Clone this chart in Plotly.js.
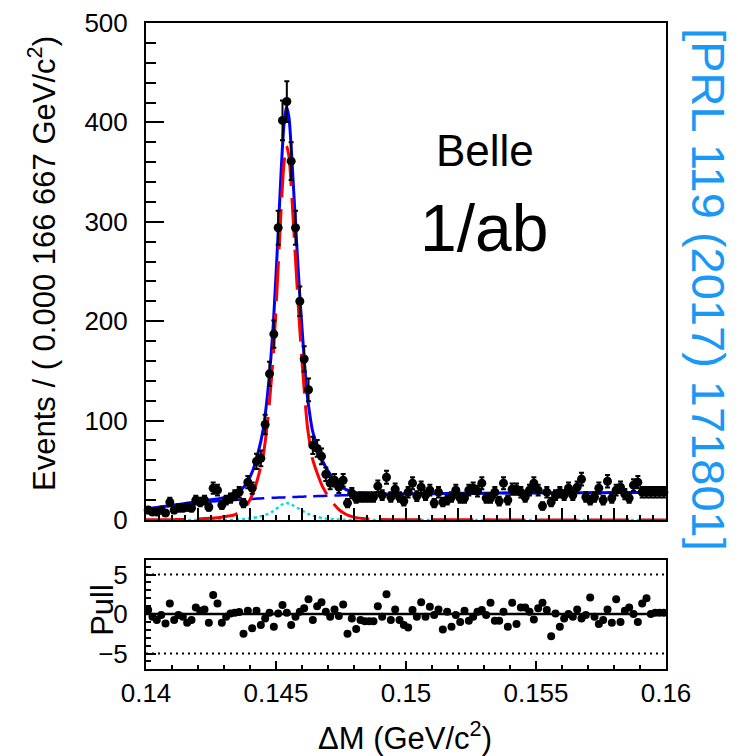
<!DOCTYPE html>
<html>
<head>
<meta charset="utf-8">
<script src="https://cdn.plot.ly/plotly-3.0.1.min.js"></script>
<style>
  html, body { margin: 0; padding: 0; background: #fff; }
  #chart { width: 738px; height: 756px; }
</style>
</head>
<body>
<div id="chart"></div>
<script>
// ---- Histogram binning (120 bins of 0.000166667 GeV/c^2 from 0.14 to 0.16)
var binLow = 0.14;
var binWidth = 0.02 / 120;

// ---- Data: events per bin
var counts = [
  10, 8, 8, 10, 7, 18, 10, 12, 12, 13,
  12, 20, 18, 20, 13, 32, 30, 15, 20, 22,
  25, 28, 17, 38, 32, 59, 62, 96, 147, 187,
  294, 402, 421, 361, 294, 220, 162, 131, 75, 72,
  64, 46, 37, 40, 33, 40, 17, 27, 22, 23,
  23, 23, 23, 34, 25, 43, 23, 31, 23, 19,
  28, 37, 24, 33, 25, 30, 17, 28, 18, 20,
  23, 30, 22, 22, 30, 32, 29, 37, 22, 22,
  28, 19, 37, 20, 31, 31, 28, 23, 30, 37,
  30, 14, 28, 18, 25, 28, 25, 32, 25, 33,
  41, 23, 20, 23, 32, 20, 39, 22, 30, 33,
  26, 22, 35, 38, 28, 28, 28, 28, 28, 28
];

// ---- Pulls per bin
var pulls = [
  0.5, -0.34, -0.76, -0.13, -1.2, 1.35, -0.76, -0.13, -0.34, -1.1,
  -0.76, 0.84, 0.42, 0.59, -1.1, 2.4, 1.35, -1.1, -0.34, 0.08,
  0.17, 0.25, -2.5, 0.42, -1.8, 0.42, -1.4, -0.55, 0.17, -1.6,
  0.08, 1.14, 0.17, -1.4, -0.34, 0.3, 0.72, 1.86, -0.76, 1.0,
  1.5, 0.3, -0.34, 0.59, -0.25, 1.2, -2.5, -0.55, -1.9, -0.76,
  -0.9, -0.9, -0.9, 1.0, -0.34, 2.5, -0.76, 0.59, -0.76, -1.4,
  -1.7, 0.5, -0.34, 1.5, -0.34, 0.93, -0.13, 0.59, -1.95, 0.3,
  -1.6, -0.13, -1.0, 0.42, -0.84, -0.34, 0.3, 0.5, -0.13, 1.43,
  -0.84, -0.84, 0.3, -1.6, 1.43, -1.26, 0.84, 0.84, 0.3, -0.68,
  0.72, 1.43, 0.5, -2.8, 0.08, -1.6, -0.55, 0, -0.34, 0.59,
  -0.55, -0.13, 2.1, -0.34, -1.26, -0.76, 0.59, -1.1, 1.86, -1.0,
  0.42, 0.84, 0, -1.0, 1.35, 2.0, 0, 0.17, 0.17, 0.17
];

// ---- Fit curves sampled at fitX
var fitX = [
  0.1400, 0.1405, 0.1410, 0.1415, 0.1420, 0.1425, 0.1429, 0.1432, 0.1434, 0.1437,
  0.1439, 0.1441, 0.1443, 0.1445, 0.1447, 0.1449, 0.1451, 0.1452, 0.1453, 0.1454,
  0.1455, 0.1456, 0.1457, 0.1458, 0.1459, 0.1460, 0.1461, 0.1462, 0.1463, 0.1464,
  0.1466, 0.1468, 0.1471, 0.1474, 0.1477, 0.1480, 0.1485, 0.1490, 0.1500, 0.1510,
  0.1520, 0.1530, 0.1540, 0.1550, 0.1560, 0.1570, 0.1580, 0.1590, 0.1600
];
var totalFit = [
  11.1, 12.9, 14.8, 16.5, 18.5, 20.3, 22.0, 24.0, 25.5, 31.4,
  38.2, 49.2, 66.5, 90.0, 133.1, 198.3, 298.0, 352.0, 396.0, 416.0,
  405.0, 368.0, 322.0, 276.0, 232.0, 193.0, 157.0, 126.0, 106.2, 90.3,
  73.0, 59.0, 45.5, 36.1, 30.5, 28.0, 26.5, 26.1, 26.3, 26.5,
  26.8, 27.0, 27.15, 27.25, 27.35, 27.45, 27.55, 27.65, 27.75
];
var signalFit = [
  0.1, 0.2, 0.3, 0.5, 1.0, 1.8, 2.7, 4.1, 5.1, 10.0,
  16.0, 26.0, 42.0, 63.7, 105.0, 167.0, 262.5, 314.4, 356.8, 376.2,
  365.6, 329.5, 284.9, 240.3, 197.7, 160.1, 125.5, 95.9, 77.0, 62.0,
  46.0, 33.0, 20.0, 11.0, 5.5, 2.9, 1.1, 0.4, 0.2, 0.1,
  0.1, 0.1, 0.05, 0.05, 0.05, 0.05, 0.05, 0.05, 0.05
];
var backgroundFit = [
  11.0, 12.7, 14.5, 16.0, 17.5, 18.5, 19.3, 19.8, 20.1, 20.6,
  20.9, 21.2, 21.5, 21.8, 22.1, 22.3, 22.5, 22.6, 22.7, 22.8,
  22.9, 23.0, 23.1, 23.2, 23.3, 23.4, 23.5, 23.6, 23.7, 23.8,
  24.0, 24.2, 24.5, 24.7, 24.9, 25.1, 25.4, 25.7, 26.1, 26.4,
  26.7, 26.9, 27.1, 27.2, 27.3, 27.4, 27.5, 27.6, 27.7
];
var peakingBkgFit = [
  0, 0, 0, 0, 0, 0, 0, 0.1, 0.3, 0.8,
  1.3, 2.0, 3.0, 4.5, 6.0, 9.0, 13.0, 15.0, 16.5, 17.0,
  16.5, 15.5, 14.0, 12.5, 11.0, 9.5, 8.0, 6.5, 5.5, 4.5,
  3.0, 1.8, 1.0, 0.4, 0.1, 0, 0, 0, 0, 0,
  0, 0, 0, 0, 0, 0, 0, 0, 0
];

// ---- Tick labels
var mainYTickVals = [0, 100, 200, 300, 400, 500];
var mainYTickText = ['0', '100', '200', '300', '400', '500'];
var pullXTickVals = [0.14, 0.145, 0.15, 0.155, 0.16];
var pullXTickText = ['0.14', '0.145', '0.15', '0.155', '0.16'];
var pullYTickVals = [-5, 0, 5];
var pullYTickText = ['\u22125', '0', '5'];
var pullRefLevels = [-5, 5];

// ---- Derived positions
var binCenters = counts.map(function (_, i) { return binLow + (i + 0.5) * binWidth; });
var errs = counts.map(function (n) { return Math.sqrt(n); });

var FONT = 'Liberation Sans, Arial, Helvetica, sans-serif';

var traces = [
  { x: fitX, y: backgroundFit, xaxis: 'x', yaxis: 'y', mode: 'lines', hoverinfo: 'skip',
    line: { color: '#0000ff', width: 2.5, dash: '14px,7px', shape: 'spline', smoothing: 0.6 } },
  { x: fitX, y: totalFit, xaxis: 'x', yaxis: 'y', mode: 'lines', hoverinfo: 'skip',
    line: { color: '#0000ff', width: 3, shape: 'spline', smoothing: 0.6 } },
  { x: fitX, y: peakingBkgFit, xaxis: 'x', yaxis: 'y', mode: 'lines', hoverinfo: 'skip',
    line: { color: '#00e0e0', width: 2.5, dash: '3px,3px', shape: 'spline', smoothing: 0.6 } },
  { x: fitX, y: signalFit, xaxis: 'x', yaxis: 'y', mode: 'lines', hoverinfo: 'skip',
    line: { color: '#ff0000', width: 3, dash: '40px,12px', shape: 'spline', smoothing: 0.6 } },
  { x: binCenters, y: counts, xaxis: 'x', yaxis: 'y', mode: 'markers', cliponaxis: false,
    marker: { color: 'black', size: 9 },
    error_y: { type: 'data', array: errs, visible: true, color: 'black', thickness: 2, width: 2.5 } },
  { x: binCenters, y: pulls, xaxis: 'x2', yaxis: 'y2', mode: 'markers', cliponaxis: false,
    marker: { color: 'black', size: 8 } }
];

var shapes = [
  { type: 'line', xref: 'x2 domain', yref: 'y2', x0: 0, x1: 1, y0: 0, y1: 0,
    line: { color: 'black', width: 2.5 } }
];
pullRefLevels.forEach(function (lv) {
  shapes.push({ type: 'line', xref: 'x2 domain', yref: 'y2', x0: 0, x1: 1, y0: lv, y1: lv,
    line: { color: 'black', width: 2, dash: '2px,4px' } });
});

var axCommon = {
  showline: true, mirror: true, linecolor: 'black', linewidth: 2,
  ticks: 'inside', tickcolor: 'black', tickwidth: 2,
  showgrid: false, zeroline: false, fixedrange: true
};

function ax(extra) { return Object.assign({}, axCommon, extra); }

var layout = {
  width: 738, height: 756,
  margin: { l: 146, r: 72, t: 23, b: 87, pad: 0 },
  paper_bgcolor: 'white', plot_bgcolor: 'white',
  showlegend: false,
  font: { family: FONT, color: 'black', size: 26 },
  xaxis: ax({ domain: [0, 1], anchor: 'y', range: [0.14, 0.16],
    tickmode: 'linear', tick0: 0.14, dtick: 0.002, ticklen: 12, showticklabels: false,
    minor: { ticks: 'inside', tickmode: 'linear', tick0: 0.14, dtick: 0.0005, ticklen: 5,
             tickwidth: 2, tickcolor: 'black', showgrid: false } }),
  yaxis: ax({ domain: [0.2307, 1], anchor: 'x', range: [0, 500],
    tickmode: 'array', tickvals: mainYTickVals, ticktext: mainYTickText, ticklen: 18,
    tickfont: { family: FONT, size: 26, color: 'black' }, ticklabelstandoff: 11,
    minor: { ticks: 'inside', tickmode: 'linear', tick0: 0, dtick: 20, ticklen: 10,
             tickwidth: 2, tickcolor: 'black', showgrid: false } }),
  xaxis2: ax({ domain: [0, 1], anchor: 'y2', range: [0.14, 0.16],
    tickmode: 'array', tickvals: pullXTickVals, ticktext: pullXTickText, ticklen: 8,
    tickfont: { family: FONT, size: 26, color: 'black' }, ticklabelstandoff: 0,
    minor: { ticks: 'inside', tickmode: 'linear', tick0: 0.14, dtick: 0.001, ticklen: 4,
             tickwidth: 2, tickcolor: 'black', showgrid: false } }),
  yaxis2: ax({ domain: [0, 0.1687], anchor: 'x2', range: [-6.96, 6.84],
    tickmode: 'array', tickvals: pullYTickVals, ticktext: pullYTickText, ticklen: 10,
    tickfont: { family: FONT, size: 26, color: 'black' }, ticklabelstandoff: 11,
    minor: { ticks: 'inside', tickmode: 'linear', tick0: 0, dtick: 1, ticklen: 5,
             tickwidth: 2, tickcolor: 'black', showgrid: false } }),
  shapes: shapes,
  annotations: [
    { text: 'Events / ( 0.000 166 667 GeV/c<sup>2</sup>)', xref: 'paper', yref: 'paper',
      x: -0.2, y: 0.627, textangle: -90, showarrow: false, xanchor: 'center', yanchor: 'middle',
      font: { family: FONT, size: 31, color: 'black' } },
    { text: 'Pull', xref: 'paper', yref: 'paper',
      x: -0.085, y: 0.0913, textangle: -90, showarrow: false, xanchor: 'center', yanchor: 'middle',
      font: { family: FONT, size: 31, color: 'black' } },
    { text: '\u0394M (GeV/c<sup>2</sup>)', xref: 'paper', yref: 'paper',
      x: 0.498, y: -0.104, showarrow: false, xanchor: 'center', yanchor: 'middle',
      font: { family: FONT, size: 31, color: 'black' } },
    { text: 'Belle', xref: 'paper', yref: 'paper',
      x: 0.652, y: 0.803, showarrow: false, xanchor: 'center', yanchor: 'middle',
      font: { family: FONT, size: 44, color: 'black' } },
    { text: '1/ab', xref: 'paper', yref: 'paper',
      x: 0.65, y: 0.683, showarrow: false, xanchor: 'center', yanchor: 'middle',
      font: { family: FONT, size: 66, color: 'black' } },
    { text: '[PRL 119 (2017) 171801]', xref: 'paper', yref: 'paper',
      x: 1.082, y: 0.587, textangle: 90, showarrow: false, xanchor: 'center', yanchor: 'middle',
      font: { family: FONT, size: 47, color: '#1a98f5' } }
  ]
};

Plotly.newPlot('chart', traces, layout, { displayModeBar: false, staticPlot: true });
</script>
</body>
</html>
